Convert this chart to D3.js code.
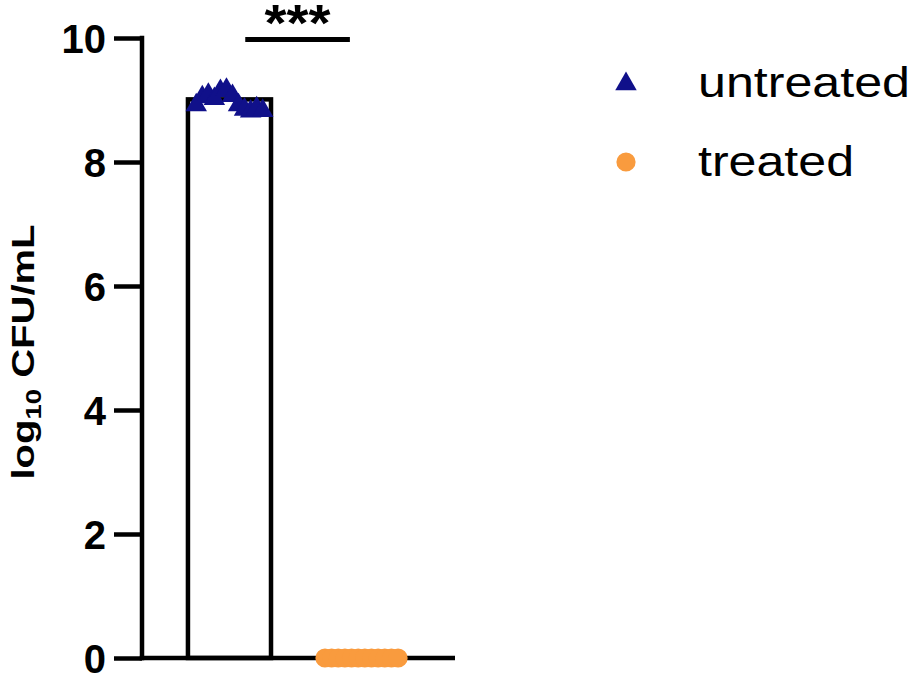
<!DOCTYPE html>
<html>
<head>
<meta charset="utf-8">
<script src="https://cdn.jsdelivr.net/npm/d3@7"></script>
<style>
  body { margin: 0; background: white; }
  svg { display: block; font-family: Arial, "Liberation Sans", sans-serif; }
</style>
</head>
<body>
<svg id="chart" width="915" height="677"></svg>
<script>
/*************************
 *  data
*************************/
let groups = ["untreated", "treated"]
let untreated = [8.95, 9.08, 9.12, 9.05, 9.18, 9.2, 9.1, 8.95, 8.88, 8.85, 8.9, 8.86]
let treated = [0, 0, 0, 0, 0, 0, 0, 0, 0, 0, 0, 0]
let yTicks = [0, 2, 4, 6, 8, 10]
let colors = {untreated: "#10108a", treated: "#f99b3e"}
let sigLabel = "***"

let series = [
    {group: "untreated", values: untreated},
    {group: "treated", values: treated}
]

/*************************
 *  scales
*************************/
let y = d3.scaleLinear()
    .domain([0, 10])
    .range([658, 38])

let x = d3.scaleBand()
    .domain(groups)
    .range([142, 449])
    .paddingInner(.371)
    .paddingOuter(.348)

let svg = d3.select("#chart")

// bars (mean)
svg.append("g")
    .attr("id", "barG")
    .selectAll(".bar")
    .data(series)
    .join("rect")
    .attr("class", "bar")
    .attr("x", d => x(d.group))
    .attr("width", x.bandwidth())
    .attr("y", d => y(d3.mean(d.values)))
    .attr("height", d => y(0) - y(d3.mean(d.values)))
    .attr("fill", "white")
    .attr("stroke", "black")
    .attr("stroke-width", 4.5)

/*************************
 *  axes
*************************/
let axisLeft = d3.axisLeft(y)
    .tickValues(yTicks)
    .tickSize(28)
    .tickPadding(8)
    .tickFormat(d3.format("d"))

let yAxis = svg.append("g")
    .attr("id", "yAxis")
    .attr("transform", `translate(${x.range()[0]}, 0)`)
    .call(axisLeft)

yAxis.select(".domain").remove()
yAxis.selectAll("line").attr("stroke", "black").attr("stroke-width", 4.5)
yAxis.selectAll("text")
    .attr("font-size", 40)
    .attr("font-weight", "bold")
    .attr("font-family", "Arial, 'Liberation Sans', sans-serif")
    .attr("fill", "black")
    .attr("dy", "0.35em")

svg.append("line")
    .attr("x1", x.range()[0]).attr("x2", x.range()[0])
    .attr("y1", y(10) - 2.25).attr("y2", y(0) + 2.25)
    .attr("stroke", "black").attr("stroke-width", 4.5)

svg.append("line")
    .attr("x1", x.range()[0] - 2.25).attr("x2", x.range()[1] + 6)
    .attr("y1", y(0)).attr("y2", y(0))
    .attr("stroke", "black").attr("stroke-width", 4.5)

// y label
let yLabel = svg.append("text")
    .attr("transform", `translate(34, ${(y(0) + y(10)) / 2 + 4}) rotate(-90)`)
    .attr("text-anchor", "middle")
    .attr("font-size", 32)
    .attr("font-weight", "bold")
    .attr("textLength", 255)
    .attr("lengthAdjust", "spacingAndGlyphs")
yLabel.append("tspan").text("log")
yLabel.append("tspan").attr("font-size", 22).attr("dy", 7).text("10")
yLabel.append("tspan").attr("dy", -7).text(" CFU/mL")

/*************************
 *  points
*************************/
let triangle = d3.symbol().type(d3.symbolTriangle).size(200)
let circle = d3.symbol().type(d3.symbolCircle).size(290)

series.forEach(s => {
    let n = s.values.length
    let spread = s.group == "untreated" ? .8 : .88
    svg.append("g")
        .attr("class", "points")
        .selectAll("path")
        .data(s.values)
        .join("path")
        .attr("d", s.group == "untreated" ? triangle : circle)
        .attr("transform", (d, i) => {
            let cx = x(s.group) + x.bandwidth() / 2 + x.bandwidth() * spread * (i / (n - 1) - .5)
            return `translate(${cx}, ${y(d) + (s.group == "untreated" ? 2 : 0)})`
        })
        .attr("fill", colors[s.group])
})

/*************************
 *  significance
*************************/
let sigX1 = x("untreated") + x.bandwidth() * .69
let sigX2 = x("treated") + x.bandwidth() * .36
svg.append("line")
    .attr("x1", sigX1).attr("x2", sigX2)
    .attr("y1", 39.5).attr("y2", 39.5)
    .attr("stroke", "black").attr("stroke-width", 5)

svg.append("text")
    .attr("x", (sigX1 + sigX2) / 2)
    .attr("y", 41)
    .attr("text-anchor", "middle")
    .attr("font-size", 52)
    .attr("font-weight", "bold")
    .attr("textLength", 66)
    .attr("lengthAdjust", "spacingAndGlyphs")
    .text(sigLabel)

/*************************
 *  legend
*************************/
let legend = svg.append("g")
    .attr("id", "legend")
    .selectAll("g")
    .data(groups)
    .join("g")
    .attr("transform", (d, i) => `translate(626, ${83 + i * 79})`)

legend.append("path")
    .attr("d", d => d == "untreated" ? triangle() : circle())
    .attr("transform", d => d == "untreated" ? "translate(0, 1)" : null)
    .attr("fill", d => colors[d])

legend.append("text")
    .attr("x", 72)
    .attr("y", 14)
    .attr("font-size", 43)
    .attr("textLength", d => d == "untreated" ? 212 : 156)
    .attr("lengthAdjust", "spacingAndGlyphs")
    .text(d => d)
</script>
</body>
</html>
